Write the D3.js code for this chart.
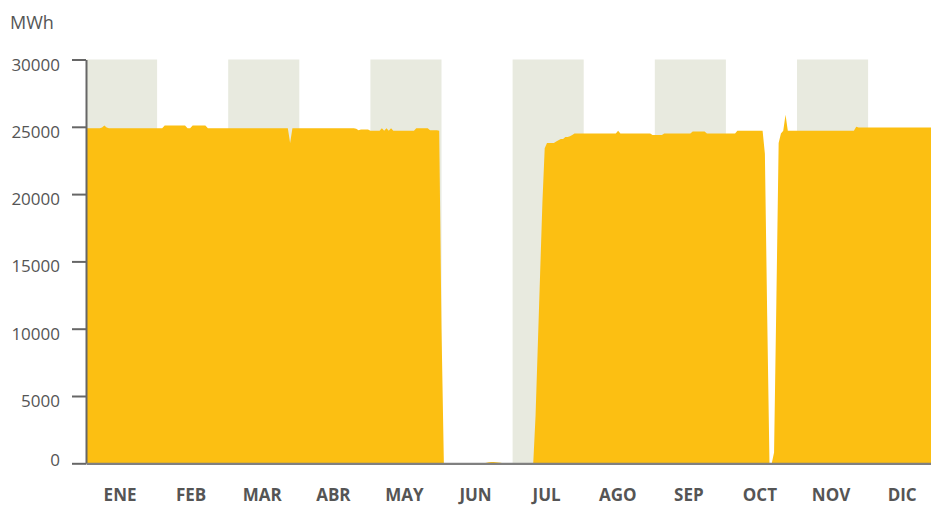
<!DOCTYPE html>
<html>
<head>
<meta charset="utf-8">
<script src="https://cdn.jsdelivr.net/npm/d3@7"></script>
<style>
  html, body { margin: 0; padding: 0; background: #fff; overflow: hidden; }
  svg { display: block; font-family: "Open Sans", "Noto Sans", sans-serif; }
</style>
</head>
<body>
<svg id="chart" width="931" height="505"></svg>
<script>
// ---- data (daily MWh) ----
const months = ["ENE","FEB","MAR","ABR","MAY","JUN","JUL","AGO","SEP","OCT","NOV","DIC"];
const shadedMonths = ["ENE","MAR","MAY","JUL","SEP","NOV"];
const yTicks = [0, 5000, 10000, 15000, 20000, 25000, 30000];
const unitLabel = "MWh";

const ene = [24900,24900,24900,24900,24900,24900,24900,24950,25100,24950,24900,24900,24900,24900,24900,24900,
             24900,24900,24900,24900,24900,24900,24900,24900,24900,24900,24900,24900,24900,24900,24900];
const feb = [24900,24900,24900,25100,25100,25100,25100,25100,25100,25100,25100,25100,24900,24900,
             25100,25100,25100,25100,25100,25100,24900,24900,24900,24900,24900,24900,24900,24900];
const mar = [24900,24900,24900,24900,24900,24900,24900,24900,24900,24900,24900,24900,24900,24900,24900,24900,
             24900,24900,24900,24900,24900,24900,24900,24900,24900,24900,24900,23800,24900,24900,24900];
const abr = [24900,24900,24900,24900,24900,24900,24900,24900,24900,24900,24900,24900,24900,24900,24900,
             24900,24900,24900,24900,24900,24900,24900,24900,24900,24850,24750,24800,24800,24800,24800];
const may = [24700,24700,24700,24700,24700,24900,24700,24900,24700,24900,24700,24700,24700,24700,24700,24700,
             24700,24700,24700,24700,24900,24900,24900,24900,24900,24900,24750,24750,24750,24750,24700];
const jun = [10000,0,0,0,0,0,0,0,0,0,0,0,0,0,0,0,0,0,0,40,80,100,100,80,60,40,0,0,0,0];
const jul = [0,0,0,0,0,0,0,0,0,0,3500,8800,14100,19400,23400,23800,23800,23800,23800,23900,
             24000,24100,24100,24250,24250,24300,24400,24500,24500,24500,24500];
const ago = [24500,24500,24500,24500,24500,24500,24500,24500,24500,24500,24500,24500,24500,24500,24500,24700,
             24500,24500,24500,24500,24500,24500,24500,24500,24500,24500,24500,24500,24500,24500,24400];
const sep = [24400,24400,24400,24400,24500,24500,24500,24500,24500,24500,24500,24500,24500,24500,24500,
             24500,24650,24650,24650,24650,24650,24650,24500,24500,24500,24500,24500,24500,24500,24500];
const oct = [24500,24500,24500,24500,24500,24700,24700,24700,24700,24700,24700,24700,24700,24700,24700,24700,
             24700,23000,11000,0,0,800,12000,23800,24500,24700,25900,24700,24700,24700,24700];
const nov = [24700,24700,24700,24700,24700,24700,24700,24700,24700,24700,24700,24700,24700,24700,24700,
             24700,24700,24700,24700,24700,24700,24700,24700,24700,24700,25000,24950,24950,24950,24950];
const dic = [24950,24950,24950,24950,24950,24950,24950,24950,24950,24950,24950,24950,24950,24950,24950,24950,
             24950,24950,24950,24950,24950,24950,24950,24950,24950,24950,24950,24950,24950,24950,24950];

const monthly = [ene, feb, mar, abr, may, jun, jul, ago, sep, oct, nov, dic];

// flatten to points: position = month index + fraction of the month
const points = [];
monthly.forEach((arr, m) => {
  arr.forEach((v, d) => points.push({ t: m + d / arr.length, v: v }));
});

// ---- layout ----
const svg = d3.select("#chart");
const x0 = 86, x1 = 939.2, yBottom = 463.3, yTop = 59.5;

const x = d3.scaleLinear().domain([0, 12]).range([x0, x1]);
const xBand = d3.scaleBand().domain(months).range([x0, x1]).padding(0);
const y = d3.scaleLinear().domain([0, 30000]).range([yBottom, yTop]);

// shaded month bands
svg.append("g")
  .selectAll("rect")
  .data(shadedMonths)
  .join("rect")
  .attr("x", d => xBand(d))
  .attr("width", xBand.bandwidth())
  .attr("y", y(30000))
  .attr("height", y(0) - y(30000))
  .attr("fill", "#e8eadf");

// area
const area = d3.area()
  .x(d => x(d.t))
  .y0(y(0))
  .y1(d => y(d.v))
  .curve(d3.curveLinear);

svg.append("path")
  .datum(points)
  .attr("d", area)
  .attr("fill", "#fcbf12");

// y axis
const yAxis = svg.append("g")
  .attr("transform", `translate(${x0},0)`)
  .call(d3.axisLeft(y).tickValues(yTicks).tickSize(14).tickPadding(12).tickSizeOuter(0).tickFormat(d3.format("d")));
yAxis.select(".domain").attr("stroke", "#666").attr("stroke-width", 2);
yAxis.selectAll(".tick line").attr("stroke", "#666").attr("stroke-width", 2);
yAxis.selectAll(".tick text")
  .attr("fill", "#555")
  .attr("font-size", 17)
  .attr("font-family", "'Open Sans', 'Noto Sans', sans-serif")
  .attr("dy", d => d === 0 ? "0.15em" : "0.62em");

// x axis
const xAxis = svg.append("g")
  .attr("transform", `translate(0,${yBottom})`)
  .call(d3.axisBottom(xBand).tickSize(0).tickPadding(26).tickSizeOuter(0));
xAxis.select(".domain").attr("stroke", "#808080").attr("stroke-width", 2.2);
xAxis.selectAll(".tick text")
  .attr("fill", "#555")
  .attr("font-size", 17)
  .attr("font-weight", "bold")
  .attr("font-family", "'Open Sans', 'Noto Sans', sans-serif")
  .attr("dx", "-1.5");

// unit label
svg.append("text")
  .attr("x", 10)
  .attr("y", 29)
  .attr("fill", "#555")
  .attr("font-size", 18)
  .text(unitLabel);
</script>
</body>
</html>
